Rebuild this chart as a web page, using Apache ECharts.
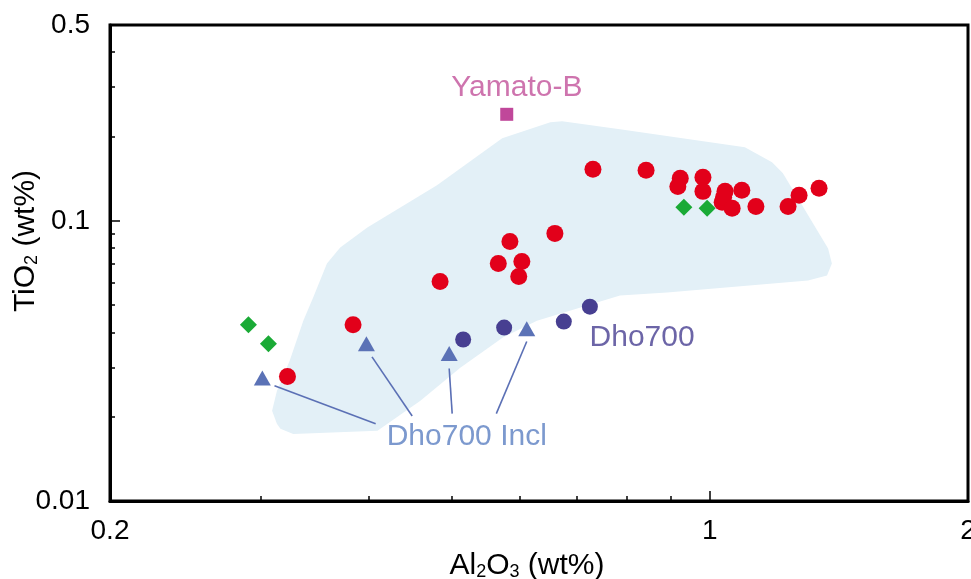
<!DOCTYPE html>
<html>
<head>
<meta charset="utf-8">
<script src="https://cdn.jsdelivr.net/npm/echarts@6/dist/echarts.min.js"></script>
<style>
html,body{margin:0;padding:0;background:#fff;}
#chart{width:971px;height:579px;}
</style>
</head>
<body>
<div id="chart"></div>
<script>
// ---- axis ticks / labels ----
const xLabelValues = [0.2, 1, 2];
const xMinorTicks = [0.3, 0.4, 0.5, 0.6, 0.7, 0.8, 0.9];
const xMajorTicks = [1];
const yLabelValues = [0.01, 0.1, 0.5];
const yMinorTicks = [0.02, 0.03, 0.04, 0.05, 0.06, 0.07, 0.08, 0.09, 0.2, 0.3, 0.4];
const yMajorTicks = [0.1];

// ---- data (Al2O3 wt%, TiO2 wt%) ----
const redAl = [0.731, 0.843, 0.924, 0.918, 0.982, 0.982, 1.042, 1.090, 1.034, 1.038, 1.062, 1.132, 1.234, 1.271, 1.341, 0.660, 0.585, 0.567, 0.604, 0.599, 0.485, 0.384, 0.322];
const redTi = [0.1527, 0.1515, 0.1418, 0.1327, 0.143, 0.1274, 0.1274, 0.1285, 0.1164, 0.1213, 0.1108, 0.1126, 0.1126, 0.1233, 0.1306, 0.0902, 0.0844, 0.0704, 0.0716, 0.0633, 0.0607, 0.0426, 0.0278];

const greenAl = [0.290, 0.306, 0.933, 0.993];
const greenTi = [0.0426, 0.0364, 0.1117, 0.1108];

const dhoAl = [0.516, 0.576, 0.676, 0.725];
const dhoTi = [0.0377, 0.0416, 0.0437, 0.0494];

const inclAl = [0.301, 0.398, 0.497, 0.612];
const inclTi = [0.0275, 0.0364, 0.0336, 0.0412];

const yamatoAl = [0.580];
const yamatoTi = [0.240];

// field outline (Al2O3, TiO2)
const fieldAl = [0.313, 0.309, 0.313, 0.324, 0.336, 0.345, 0.358, 0.371, 0.399, 0.481, 0.573, 0.652, 0.673, 0.786, 1.099, 1.182, 1.217, 1.374, 1.388, 1.370, 1.302, 0.892, 0.786, 0.629, 0.574, 0.512, 0.460, 0.410, 0.327, 0.316];
const fieldTi = [0.01886, 0.0210, 0.0247, 0.0317, 0.0440, 0.0532, 0.0704, 0.0803, 0.0947, 0.1339, 0.197, 0.2248, 0.2267, 0.2123, 0.183, 0.1618, 0.1477, 0.0797, 0.0704, 0.0638, 0.0612, 0.0555, 0.0541, 0.0440, 0.0383, 0.0299, 0.0228, 0.0178, 0.01736, 0.01809];

// leader lines from inclusion triangles to label
const leadStartAl = [0.311, 0.404, 0.497, 0.612];
const leadStartTi = [0.0258, 0.0327, 0.0297, 0.0371];
const leadEndAl = [0.408, 0.450, 0.501, 0.564];
const leadEndTi = [0.01886, 0.0201, 0.0205, 0.0205];

// text labels
const labelTexts = ['Yamato-B', 'Dho700', 'Dho700 Incl'];
const labelAl = [0.596, 0.834, 0.521];
const labelTi = [0.2975, 0.0383, 0.01694];
const labelColors = ['#c2519a', '#473f91', '#5b80c2'];

const pairs = (a, b) => a.map((v, i) => [v, b[i]]);
const fmt = v => String(+(+v).toPrecision(3));
const FONT = '"Liberation Sans", Arial, sans-serif';

const chart = echarts.init(document.getElementById('chart'), null, {renderer: 'canvas'});

const baseX = {type: 'log', logBase: 10, min: 0.2, max: 2, gridIndex: 0, position: 'bottom', splitLine: {show: false}};
const baseY = {type: 'log', logBase: 10, min: 0.01, max: 0.5, gridIndex: 0, position: 'left', splitLine: {show: false}};

const richTitle = {
  a: {fontSize: 30, fontFamily: FONT, color: '#000'},
  s: {fontSize: 18, fontFamily: FONT, color: '#000', verticalAlign: 'bottom', padding: [9, 0, 0, 0]}
};

const series = [];
series.push({
  type: 'custom',
  xAxisIndex: 0, yAxisIndex: 0,
  silent: true, z: 1,
  data: pairs(fieldAl, fieldTi),
  renderItem: function (params, api) {
    if (params.dataIndex !== 0) return null;
    const pts = fieldAl.map((x, i) => api.coord([x, fieldTi[i]]));
    return {type: 'polygon', shape: {points: pts, smooth: 0}, style: {fill: '#e3f0f7', stroke: null}};
  }
});
for (let i = 0; i < leadStartAl.length; i++) {
  series.push({
    type: 'line', silent: true, z: 3, symbol: 'none',
    data: [[leadStartAl[i], leadStartTi[i]], [leadEndAl[i], leadEndTi[i]]],
    lineStyle: {color: '#5b70b5', width: 1.6}
  });
}
series.push({type: 'scatter', name: 'red', z: 4, symbol: 'circle', symbolSize: 17,
  itemStyle: {color: '#e2001a', opacity: 1}, data: pairs(redAl, redTi)});
series.push({type: 'scatter', name: 'green', z: 5, symbol: 'diamond', symbolSize: [17, 17],
  itemStyle: {color: '#1aaa36', opacity: 1}, data: pairs(greenAl, greenTi)});
series.push({type: 'scatter', name: 'Dho700', z: 5, symbol: 'circle', symbolSize: 16,
  itemStyle: {color: '#473f91', opacity: 1}, data: pairs(dhoAl, dhoTi)});
series.push({type: 'scatter', name: 'Dho700 Incl', z: 5, symbol: 'triangle', symbolSize: [17, 15],
  itemStyle: {color: '#5b72b6', opacity: 1}, data: pairs(inclAl, inclTi)});
series.push({type: 'scatter', name: 'Yamato-B', z: 5, symbol: 'rect', symbolSize: 13,
  itemStyle: {color: '#c0479a', opacity: 1}, data: pairs(yamatoAl, yamatoTi)});
series.push({type: 'scatter', name: 'labels', z: 6, silent: true, symbolSize: 1,
  itemStyle: {color: 'rgba(0,0,0,0)'},
  data: labelTexts.map((t, i) => ({
    value: [labelAl[i], labelTi[i]],
    label: {show: true, position: 'inside', formatter: t, color: labelColors[i],
      fontSize: 30, fontFamily: FONT}
  }))
});

chart.setOption({
  animation: false,
  backgroundColor: '#ffffff',
  grid: {left: 110, right: 3, top: 25, bottom: 78, show: true, borderColor: '#000', borderWidth: 3,
    backgroundColor: 'transparent', containLabel: false, outerBoundsMode: 'none'},
  xAxis: [
    Object.assign({}, baseX, {
      axisLine: {show: true, lineStyle: {color: '#000', width: 3}},
      axisTick: {show: true, inside: true, length: 5, customValues: xMinorTicks, lineStyle: {color: '#000', width: 1.5}},
      axisLabel: {show: true, customValues: xLabelValues, formatter: fmt, margin: 16, color: '#000', fontSize: 28, fontFamily: FONT},
      name: '{a|Al}{s|2}{a|O}{s|3}{a| (wt%)}',
      nameLocation: 'middle', nameGap: 50,
      nameTextStyle: {color: '#000', fontFamily: FONT, padding: [0, 24, 0, 0], rich: richTitle}
    }),
    Object.assign({}, baseX, {
      axisLine: {show: false},
      axisTick: {show: true, inside: true, length: 10, customValues: xMajorTicks, lineStyle: {color: '#000', width: 1.5}},
      axisLabel: {show: false}
    })
  ],
  yAxis: [
    Object.assign({}, baseY, {
      axisLine: {show: true, lineStyle: {color: '#000', width: 3}},
      axisTick: {show: true, inside: true, length: 5, customValues: yMinorTicks, lineStyle: {color: '#000', width: 1.5}},
      axisLabel: {show: true, customValues: yLabelValues, formatter: fmt, margin: 20, color: '#000', fontSize: 28, fontFamily: FONT}
    }),
    Object.assign({}, baseY, {
      axisLine: {show: false},
      axisTick: {show: true, inside: true, length: 10, customValues: yMajorTicks, lineStyle: {color: '#000', width: 1.5}},
      axisLabel: {show: false}
    })
  ],
  graphic: [{
    type: 'text',
    x: 26, y: 241,
    rotation: Math.PI / 2,
    silent: true,
    style: {
      text: '{a|TiO}{s|2}{a| (wt%)}',
      rich: richTitle,
      align: 'center',
      verticalAlign: 'middle',
      fill: '#000'
    }
  }],
  series: series
});
</script>
</body>
</html>
